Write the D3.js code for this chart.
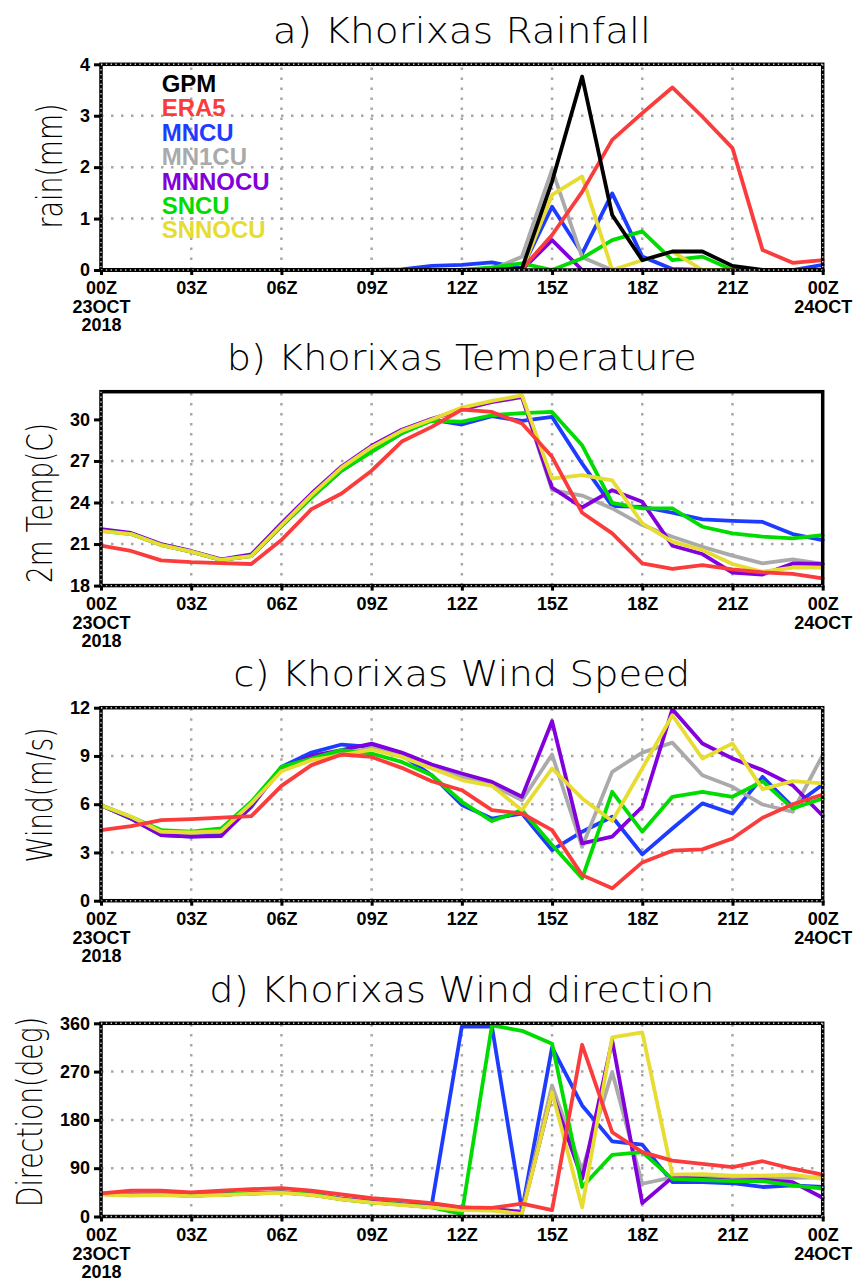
<!DOCTYPE html>
<html>
<head>
<meta charset="utf-8">
<script src="https://cdn.jsdelivr.net/npm/d3@7"></script>
<style>
  body { margin: 0; background: #fff; }
</style>
</head>
<body>
<div id="chart"></div>
<script>
// hours after 00Z 23 Oct 2018
const hours = d3.range(0, 25);
const timeTicks = [0, 3, 6, 9, 12, 15, 18, 21, 24];
const timeLabels = ["00Z", "03Z", "06Z", "09Z", "12Z", "15Z", "18Z", "21Z", "00Z"];
const dateLabels = { 0: ["23OCT", "2018"], 24: ["24OCT"] };

// legend order (top to bottom) and draw order (last on top)
const legendNames = ["GPM", "ERA5", "MNCU", "MN1CU", "MNNOCU", "SNCU", "SNNOCU"];
const drawOrder = ["MNCU", "MN1CU", "MNNOCU", "SNCU", "SNNOCU", "ERA5", "GPM"];
const colors = {
  GPM: "#000000",
  ERA5: "#fa3c3c",
  MNCU: "#1e3cff",
  MN1CU: "#aaaaaa",
  MNNOCU: "#8200dc",
  SNCU: "#00dc00",
  SNNOCU: "#e6dc32",
};

// a) rainfall (mm)
const rainGPM    = [0,0,0,0,0,0,0,0,0,0,0,0,0,0,0.03,1.72,3.76,1.07,0.19,0.36,0.36,0.08,0,0,0];
const rainERA5   = [0,0,0,0,0,0,0,0,0,0,0,0,0,0.01,0.02,0.68,1.52,2.53,3.05,3.55,2.98,2.37,0.39,0.14,0.19];
const rainMNCU   = [0,0,0,0,0,0,0,0,0,0,0.01,0.08,0.1,0.15,0.03,1.23,0.32,1.49,0.26,0.02,0,0,0,0,0.1];
const rainMN1CU  = [0,0,0,0,0,0,0,0,0,0,0,0,0,0.01,0.26,1.95,0.25,0,0,0,0,0,0,0,0];
const rainMNNOCU = [0,0,0,0,0,0,0,0,0,0,0,0,0,0,0,0.58,0,0,0,0,0,0,0,0,0];
const rainSNCU   = [0,0,0,0,0,0,0,0,0,0,0,0,0,0.05,0.13,0,0.23,0.58,0.75,0.19,0.26,0,0,0,0];
const rainSNNOCU = [0,0,0,0,0,0,0,0,0,0,0,0,0,0,0,1.46,1.82,0,0.19,0.36,0,0,0,0,0];

// b) 2m temperature (C)
const tempERA5   = [20.88,20.5,19.82,19.7,19.63,19.56,21.29,23.52,24.65,26.3,28.4,29.46,30.7,30.54,29.7,27.3,23.26,21.77,19.6,19.2,19.48,19.17,18.96,18.84,18.52];
const tempMNCU   = [22.0,21.75,20.95,20.45,19.85,20.15,22.3,24.4,26.3,27.7,29.0,29.99,29.63,30.23,29.89,30.18,26.8,23.74,23.69,23.26,22.78,22.68,22.6,21.72,21.29];
const tempMN1CU  = [22.0,21.75,20.95,20.45,19.85,20.15,22.4,24.55,26.5,27.95,29.15,29.98,30.8,31.25,31.6,24.89,24.5,23.57,22.37,21.53,20.8,20.16,19.6,19.9,19.56];
const tempMNNOCU = [22.08,21.8,21.0,20.5,19.9,20.25,22.5,24.65,26.6,28.1,29.25,30.05,30.7,31.26,31.62,25.08,23.64,24.89,24.05,20.88,20.28,18.93,18.8,19.6,19.56];
const tempSNCU   = [21.95,21.72,20.93,20.45,19.85,20.13,22.3,24.35,26.3,27.65,29.0,29.9,29.84,30.3,30.46,30.54,28.13,23.97,23.57,23.57,22.25,21.77,21.53,21.41,21.65];
const tempSNNOCU = [21.94,21.72,20.93,20.45,19.85,20.13,22.36,24.53,26.52,28.0,29.17,29.99,30.85,31.33,31.74,25.73,25.97,25.6,22.5,21.17,20.57,19.56,19.0,19.3,19.3];

// c) wind speed (m/s)
const windERA5   = [4.39,4.64,5.01,5.07,5.16,5.26,7.14,8.43,9.09,8.94,8.26,7.43,6.87,5.63,5.42,4.39,1.59,0.77,2.38,3.11,3.19,3.87,5.16,6.0,6.6];
const windMNCU   = [5.94,5.1,4.08,3.98,4.08,5.84,8.32,9.21,9.71,9.57,9.05,7.8,5.95,5.11,5.42,3.15,4.29,5.22,2.88,4.49,6.05,5.42,7.7,5.84,7.23];
const windMN1CU  = [5.94,5.2,4.25,4.2,4.3,6.0,8.1,8.8,9.1,9.5,9.0,8.3,7.7,7.18,6.25,9.09,3.35,8.01,9.21,9.83,7.8,7.08,5.98,5.53,9.05];
const windMNNOCU = [5.94,5.11,4.08,3.98,4.02,5.94,8.18,9.0,9.36,9.77,9.21,8.47,7.91,7.39,6.46,11.16,3.56,3.98,5.84,11.9,9.77,8.84,8.12,7.18,5.28];
const windSNCU   = [5.94,5.2,4.39,4.29,4.49,6.15,8.32,8.84,9.36,9.15,8.63,7.8,6.15,4.95,5.63,3.46,1.39,6.77,4.29,6.46,6.77,6.46,7.43,5.73,6.36];
const windSNNOCU = [5.94,5.22,4.29,4.24,4.33,6.05,8.05,8.74,9.05,9.4,8.94,8.22,7.5,7.14,5.63,8.22,6.36,4.95,8.22,11.53,8.84,9.77,6.94,7.43,7.29];

// d) wind direction (deg)
const dirERA5   = [43,48,48,45,48,51,53,48,41,34,30,25,17,16,24,12,320,157,120,104,98,92,103,89,78];
const dirMNCU   = [42,41,41,40,41,43,45,41,33,27,23,22,354,354,11,315,207,140,134,64,64,62,55,58,55];
const dirMN1CU  = [42,40,41,39,41,43,45,41,33,27,22,18,15,13,10,244,86,269,61,73,73,70,70,72,73];
const dirMNNOCU = [42,40,41,39,41,43,45,41,33,27,22,18,17,14,8,230,70,328,25,73,70,67,68,64,35];
const dirSNCU   = [42,40,41,39,41,43,45,41,32,26,22,17,5,356,346,322,55,115,120,70,68,66,66,58,52];
const dirSNNOCU = [41,39,40,38,40,42,44,40,32,26,21,17,12,11,5,232,17,334,343,78,79,76,76,78,70];

const width = 853, height = 1282;
const plotLeft = 101, plotRight = 822.7;

const panels = [
  {
    title: "a) Khorixas Rainfall", titleLen: 378,
    ylabel: "rain(mm)", ylabelLen: 125, ylabelX: 62, ylabelY: 166,
    top: 64.3, bottom: 270, domain: [0, 4], ticks: [0, 1, 2, 3, 4],
    data: { GPM: rainGPM, ERA5: rainERA5, MNCU: rainMNCU, MN1CU: rainMN1CU, MNNOCU: rainMNNOCU, SNCU: rainSNCU, SNNOCU: rainSNNOCU },
    legend: true, dots: { top: true, right: true },
  },
  {
    title: "b) Khorixas Temperature", titleLen: 470,
    ylabel: "2m Temp(C)", ylabelLen: 160, ylabelX: 52, ylabelY: 503,
    top: 391.7, bottom: 585.6, domain: [18, 32], ticks: [18, 21, 24, 27, 30],
    data: { ERA5: tempERA5, MNCU: tempMNCU, MN1CU: tempMN1CU, MNNOCU: tempMNNOCU, SNCU: tempSNCU, SNNOCU: tempSNNOCU },
    dots: { top: false, right: false },
  },
  {
    title: "c) Khorixas Wind Speed", titleLen: 457,
    ylabel: "Wind(m/s)", ylabelLen: 135, ylabelX: 52, ylabelY: 795,
    top: 707.7, bottom: 900.7, domain: [0, 12], ticks: [0, 3, 6, 9, 12],
    data: { ERA5: windERA5, MNCU: windMNCU, MN1CU: windMN1CU, MNNOCU: windMNNOCU, SNCU: windSNCU, SNNOCU: windSNNOCU },
    dots: { top: true, right: true },
  },
  {
    title: "d) Khorixas Wind direction", titleLen: 505,
    ylabel: "Direction(deg)", ylabelLen: 190, ylabelX: 42, ylabelY: 1112,
    top: 1023.3, bottom: 1216.5, domain: [0, 360], ticks: [0, 90, 180, 270, 360],
    data: { ERA5: dirERA5, MNCU: dirMNCU, MN1CU: dirMN1CU, MNNOCU: dirMNNOCU, SNCU: dirSNCU, SNNOCU: dirSNNOCU },
    dots: { top: true, right: true },
  },
];

const svg = d3.select("#chart").append("svg")
  .attr("width", width)
  .attr("height", height)
  .attr("viewBox", [0, 0, width, height]);

svg.append("rect").attr("width", width).attr("height", height).attr("fill", "#fff");

const x = d3.scaleLinear([0, 24], [plotLeft, plotRight]);
const tickFont = "'Liberation Sans', Arial, sans-serif";
const thinFont = "'DejaVu Sans', sans-serif";

panels.forEach((p) => {
  const y = d3.scaleLinear(p.domain, [p.bottom, p.top]);
  const g = svg.append("g");

  // dotted grid (inner ticks only)
  const grid = g.append("g")
    .attr("stroke", "#a8a8a8")
    .attr("stroke-width", 2.5)
    .attr("stroke-dasharray", "2.5,7.5");
  grid.selectAll(".vg")
    .data(timeTicks.slice(1, -1))
    .join("line")
    .attr("x1", (d) => x(d)).attr("x2", (d) => x(d))
    .attr("y1", p.bottom).attr("y2", p.top);
  grid.selectAll(".hg")
    .data(p.ticks.slice(1, -1))
    .join("line")
    .attr("x1", plotLeft).attr("x2", plotRight)
    .attr("y1", (d) => y(d)).attr("y2", (d) => y(d));

  // series lines
  const line = d3.line()
    .x((d, i) => x(hours[i]))
    .y((d) => y(d));

  drawOrder.filter((name) => p.data[name]).forEach((name) => {
    g.append("path")
      .attr("fill", "none")
      .attr("stroke", colors[name])
      .attr("stroke-width", 3.8)
      .attr("stroke-linejoin", "round")
      .attr("stroke-linecap", "round")
      .attr("d", line(p.data[name]));
  });

  // frame
  g.append("rect")
    .attr("x", plotLeft).attr("y", p.top)
    .attr("width", plotRight - plotLeft).attr("height", p.bottom - p.top)
    .attr("fill", "none")
    .attr("stroke", "#000")
    .attr("stroke-width", 3.5);

  const edges = [
    [plotLeft, p.bottom, plotRight, p.bottom, true],
    [plotLeft, p.top, plotLeft, p.bottom, true],
    [plotLeft, p.top, plotRight, p.top, p.dots.top],
    [plotRight, p.top, plotRight, p.bottom, p.dots.right],
  ];
  g.append("g")
    .attr("stroke", "#c8c8c8")
    .attr("stroke-width", 1.4)
    .attr("stroke-dasharray", "1.4,3.4")
    .selectAll("line")
    .data(edges.filter((e) => e[4]))
    .join("line")
    .attr("x1", (e) => e[0]).attr("y1", (e) => e[1])
    .attr("x2", (e) => e[2]).attr("y2", (e) => e[3]);

  // y axis
  const yAxis = d3.axisLeft(y)
    .tickValues(p.ticks)
    .tickSize(7)
    .tickPadding(4)
    .tickSizeOuter(0)
    .tickFormat(d3.format("d"));
  const yG = g.append("g")
    .attr("transform", `translate(${plotLeft},0)`)
    .call(yAxis)
    .call((s) => s.select(".domain").remove());
  yG.selectAll(".tick line").attr("stroke", "#000").attr("stroke-width", 3);
  yG.selectAll(".tick text")
    .attr("font-family", tickFont)
    .attr("font-weight", "bold")
    .attr("font-size", 18)
    .attr("fill", "#000");

  // x axis
  const xAxis = d3.axisBottom(x)
    .tickValues(timeTicks)
    .tickSize(5)
    .tickPadding(6)
    .tickSizeOuter(0)
    .tickFormat((d, i) => timeLabels[i]);
  const xG = g.append("g")
    .attr("transform", `translate(0,${p.bottom})`)
    .call(xAxis)
    .call((s) => s.select(".domain").remove());
  xG.selectAll(".tick line").attr("stroke", "#000").attr("stroke-width", 3);
  xG.selectAll(".tick text")
    .attr("font-family", tickFont)
    .attr("font-weight", "bold")
    .attr("font-size", 18)
    .attr("fill", "#000")
    .attr("dy", null)
    .attr("y", 24)
    .each(function (d) {
      const extra = dateLabels[d];
      if (!extra) return;
      const t = d3.select(this);
      extra.forEach((lab, k) => {
        t.append("tspan").attr("x", 0).attr("y", 43 + k * 18).text(lab);
      });
    });
  // put the first line back into its own tspan so extra lines sit below it
  xG.selectAll(".tick text").each(function () {
    const t = d3.select(this);
    const node = this.firstChild;
    if (node && node.nodeType === 3) {
      const label = node.nodeValue;
      node.nodeValue = "";
      t.insert("tspan", ":first-child").attr("x", 0).attr("y", 24).text(label);
    }
  });

  // title
  g.append("text")
    .attr("x", (plotLeft + plotRight) / 2)
    .attr("y", p.top - 21.5)
    .attr("text-anchor", "middle")
    .attr("font-family", thinFont)
    .attr("font-weight", 200)
    .attr("font-size", 36)
    .attr("textLength", p.titleLen)
    .attr("lengthAdjust", "spacingAndGlyphs")
    .attr("fill", "#000")
    .text(p.title);

  // y label
  g.append("text")
    .attr("transform", `translate(${p.ylabelX},${p.ylabelY}) rotate(-90)`)
    .attr("text-anchor", "middle")
    .attr("font-family", thinFont)
    .attr("font-weight", 200)
    .attr("font-size", 36)
    .attr("textLength", p.ylabelLen)
    .attr("lengthAdjust", "spacingAndGlyphs")
    .attr("fill", "#000")
    .text(p.ylabel);

  // legend
  if (p.legend) {
    g.append("g")
      .selectAll("text")
      .data(legendNames)
      .join("text")
      .attr("x", 161.7)
      .attr("y", (d, i) => p.top + 27.4 + i * 24.45)
      .attr("font-family", tickFont)
      .attr("font-weight", "bold")
      .attr("font-size", 24)
      .attr("fill", (d) => colors[d])
      .text((d) => d);
  }
});
</script>
</body>
</html>
